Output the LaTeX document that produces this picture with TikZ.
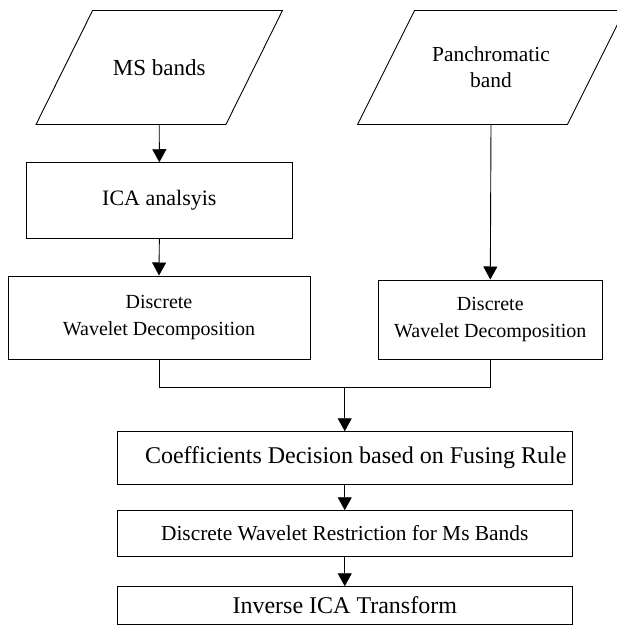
\documentclass[tikz,border=0pt]{standalone}
\usepackage{fontspec}
\setmainfont{Liberation Serif}
\usetikzlibrary{arrows.meta,calc}
\begin{document}
\begin{tikzpicture}[x=1pt,y=-1pt,line width=0.9pt,
  box/.style={draw,rectangle,inner sep=0pt,align=center},
  para/.style={rectangle,inner sep=0pt,align=center},
  arr/.style={-{Triangle[length=13pt,width=14pt]}},
  f20/.style={font=\fontsize{20}{26.5}\selectfont},
  f21/.style={font=\fontsize{21.4}{26}\selectfont},
  f22/.style={font=\fontsize{22}{26}\selectfont},
  f23/.style={font=\fontsize{23}{26}\selectfont},
  f24/.style={font=\fontsize{24}{28}\selectfont}]
\useasboundingbox (0,0) rectangle (616,626);
% input parallelograms
\node[para,f23,minimum width=245.5pt,minimum height=113pt] (ms) at (159.25,67.5) {MS bands};
\draw (ms.south west) -- ($(ms.south east)+(-56.5,0)$) -- (ms.north east) -- ($(ms.north west)+(56.5,0)$) -- cycle;
\node[para,f21,minimum width=266pt,minimum height=113pt] (pan) at (491,67.5) {Panchromatic\\band};
\draw (pan.south west) -- ($(pan.south east)+(-57,0)$) -- (pan.north east) -- ($(pan.north west)+(57,0)$) -- cycle;
% boxes
\node[box,f22,minimum width=265.3pt,minimum height=75.3pt] (ica) at (159.35,200.35) {ICA analsyis};
\node[box,f20,minimum width=302pt,minimum height=83.3pt] (dwd1) at (159,317.6) {Discrete\\Wavelet Decomposition};
\node[box,f20,minimum width=224pt,minimum height=79.3pt] (dwd2) at (490.3,319.6) {Discrete\\Wavelet Decomposition};
\node[box,f24,minimum width=454.5pt,minimum height=52.6pt] (coef) at (344.75,458) {\hspace{22pt}Coefficients Decision based on Fusing Rule};
\node[box,f21,minimum width=454.5pt,minimum height=45.6pt] (dwr) at (344.75,533.5) {Discrete Wavelet Restriction for Ms Bands};
\node[box,f24,minimum width=454.5pt,minimum height=37.3pt] (inv) at (344.75,605.35) {Inverse ICA Transform};
% connectors
\coordinate (j) at (344.75,387);
\draw[arr] (ms.south) -- (ica.north);
\draw[arr] (ica.south) -- (dwd1.north);
\draw[arr] (pan.south) -- (dwd2.north);
\draw (dwd1.south) |- (j);
\draw (dwd2.south) |- (j);
\draw[arr] (j) -- (coef.north);
\draw[arr] (coef.south) -- (dwr.north);
\draw[arr] (dwr.south) -- (inv.north);
\end{tikzpicture}
\end{document}
